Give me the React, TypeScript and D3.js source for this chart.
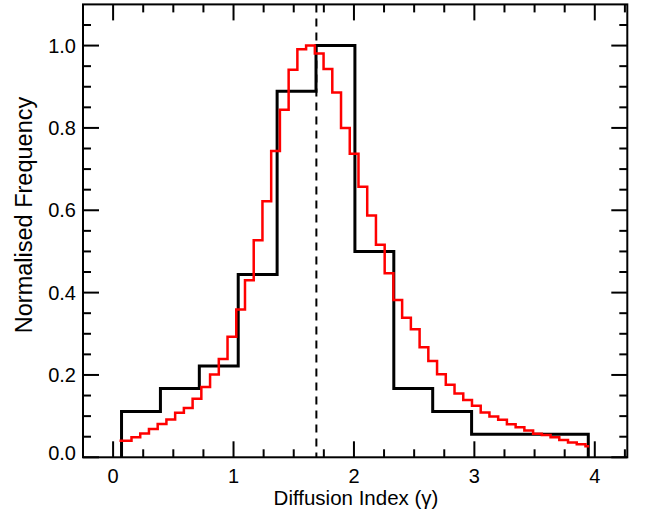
import React from "react";
import * as d3 from "d3";

// ---- data ----
const blackEdges = [0.07, 0.393, 0.716, 1.039, 1.362, 1.685, 2.008, 2.331, 2.654, 2.977, 3.3, 3.623, 3.946];
const blackValues = [0.111, 0.167, 0.222, 0.444, 0.889, 1.0, 0.5, 0.167, 0.111, 0.056, 0.056, 0.056];

const redStart = 0.053;
const redFirstEdge = 0.1527;
const redBinWidth = 0.0725;
const redEnd = 3.953;
const redValues = [
  0.04, 0.049, 0.058, 0.069, 0.081, 0.092, 0.108, 0.12, 0.142, 0.171,
  0.201, 0.239, 0.293, 0.359, 0.43, 0.527, 0.622, 0.744, 0.844, 0.941,
  0.991, 1.0, 0.981, 0.943, 0.886, 0.8, 0.737, 0.657, 0.587, 0.516,
  0.447, 0.382, 0.339, 0.311, 0.267, 0.234, 0.202, 0.176, 0.155, 0.139,
  0.125, 0.109, 0.099, 0.091, 0.08, 0.073, 0.065, 0.057, 0.054, 0.049,
  0.042, 0.036, 0.032, 0.027,
];

const medianX = 1.688;

const xMajorTicks = [0, 1, 2, 3, 4];
const yMajorTicks = [0, 0.2, 0.4, 0.6, 0.8, 1.0];
const xTitle = "Diffusion Index (γ)";
const yTitle = "Normalised Frequency";

// ---- layout ----
const W = 647;
const H = 515;
const left = 83;
const right = 627.3;
const top = 4.4;
const bottom = 457.3;
const FONT = "'Liberation Sans', Arial, Helvetica, sans-serif";

export default function App() {
  const x = d3.scaleLinear().domain([-0.25, 4.27]).range([left, right]);
  const y = d3.scaleLinear().domain([0, 1.1]).range([bottom, top]);

  const xMinor = d3.range(-0.25, 4.27, 0.25).filter((v) => Math.abs(v - Math.round(v)) > 1e-6);
  const yMinor = d3.range(0.05, 1.1, 0.05).filter((v) => Math.abs(v * 5 - Math.round(v * 5)) > 1e-6);

  const line = d3
    .line<[number, number]>()
    .x((d) => x(d[0]))
    .y((d) => y(d[1]))
    .curve(d3.curveStepAfter);

  const blackPts: [number, number][] = [[blackEdges[0], 0]];
  blackValues.forEach((v, i) => blackPts.push([blackEdges[i], v]));
  blackPts.push([blackEdges[blackEdges.length - 1], blackValues[blackValues.length - 1]]);
  blackPts.push([blackEdges[blackEdges.length - 1], 0]);

  const redPts: [number, number][] = redValues.map((v, i) => [
    i === 0 ? redStart : redFirstEdge + (i - 1) * redBinWidth,
    v,
  ]);
  redPts.push([redEnd, redValues[redValues.length - 1]]);

  const major = 16;
  const minor = 8;

  return (
    <svg width={W} height={H} style={{ position: "absolute", left: 0, top: 0, background: "#fff" }}>
      <rect x={0} y={0} width={W} height={H} fill="#fff" />
      {/* dashed median line */}
      <line x1={x(medianX)} x2={x(medianX)} y1={top} y2={bottom} stroke="#000" strokeWidth={2} strokeDasharray="8,6" />
      {/* black histogram */}
      <path d={line(blackPts) || ""} fill="none" stroke="#000" strokeWidth={3} strokeLinejoin="miter" />
      {/* red histogram */}
      <path d={line(redPts) || ""} fill="none" stroke="#ff0000" strokeWidth={2.5} strokeLinejoin="miter" />

      {/* frame */}
      <rect x={left} y={top} width={right - left} height={bottom - top} fill="none" stroke="#000" strokeWidth={2} />

      {/* x ticks */}
      {xMajorTicks.map((t) => (
        <g key={"xM" + t}>
          <line x1={x(t)} x2={x(t)} y1={bottom} y2={bottom - major} stroke="#000" strokeWidth={2} />
          <line x1={x(t)} x2={x(t)} y1={top} y2={top + major} stroke="#000" strokeWidth={2} />
          <text x={x(t)} y={483} textAnchor="middle" fontFamily={FONT} fontSize={20} fill="#000">
            {t}
          </text>
        </g>
      ))}
      {xMinor.map((t) => (
        <g key={"xm" + t}>
          <line x1={x(t)} x2={x(t)} y1={bottom} y2={bottom - minor} stroke="#000" strokeWidth={2} />
          <line x1={x(t)} x2={x(t)} y1={top} y2={top + minor} stroke="#000" strokeWidth={2} />
        </g>
      ))}

      {/* y ticks */}
      {yMajorTicks.map((t) => (
        <g key={"yM" + t}>
          <line x1={left} x2={left + major} y1={y(t)} y2={y(t)} stroke="#000" strokeWidth={2} />
          <line x1={right} x2={right - major} y1={y(t)} y2={y(t)} stroke="#000" strokeWidth={2} />
          <text
            x={76}
            y={Math.min(y(t), bottom - 5)}
            dy="0.36em"
            textAnchor="end"
            fontFamily={FONT}
            fontSize={20}
            fill="#000"
          >
            {d3.format(".1f")(t)}
          </text>
        </g>
      ))}
      {yMinor.map((t) => (
        <g key={"ym" + t}>
          <line x1={left} x2={left + minor} y1={y(t)} y2={y(t)} stroke="#000" strokeWidth={2} />
          <line x1={right} x2={right - minor} y1={y(t)} y2={y(t)} stroke="#000" strokeWidth={2} />
        </g>
      ))}

      {/* titles */}
      <text x={356} y={505} textAnchor="middle" fontFamily={FONT} fontSize={20.5} fill="#000">
        {xTitle}
      </text>
      <text
        transform={`translate(32, 215) rotate(-90)`}
        textAnchor="middle"
        fontFamily={FONT}
        fontSize={23.5}
        fill="#000"
      >
        {yTitle}
      </text>
    </svg>
  );
}
